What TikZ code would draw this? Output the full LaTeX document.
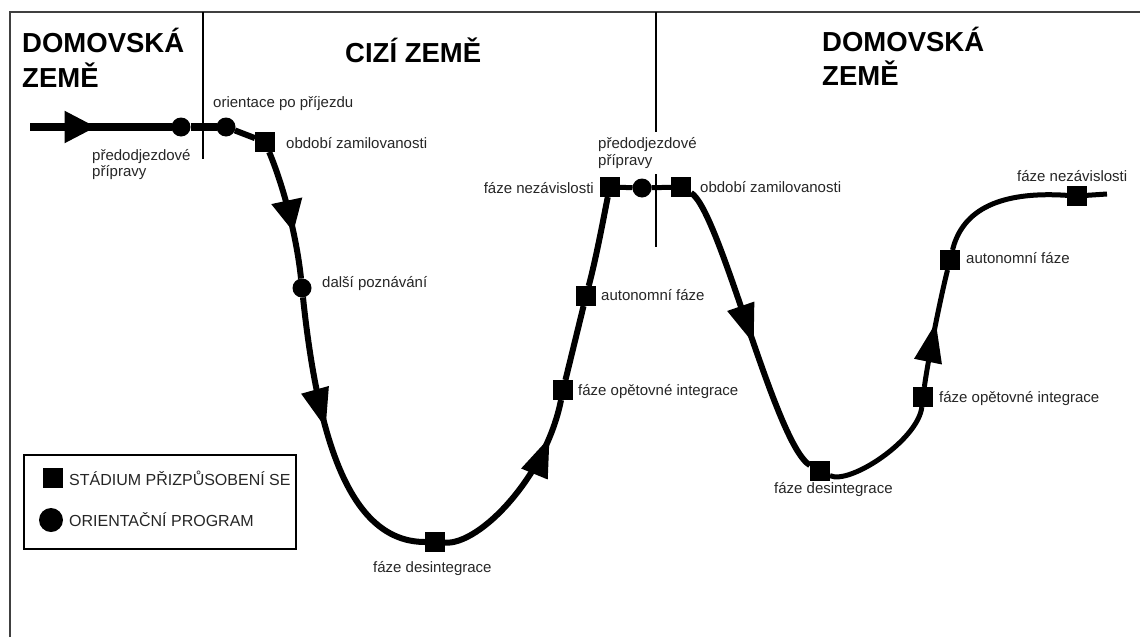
\documentclass[tikz,border=0pt]{standalone}
\usepackage{fontspec}
\setmainfont{Liberation Sans}
\usetikzlibrary{arrows.meta,decorations.markings}
\begin{document}
\begin{tikzpicture}[x=1pt,y=-1pt,
  sq/.style={fill=black,minimum size=20pt,inner sep=0pt,outer sep=0pt},
  dot/.style={circle,fill=black,minimum size=19pt,inner sep=0pt,outer sep=0pt},
  lbl/.style={font=\fontsize{15}{18}\selectfont,text=black!85,inner sep=0pt,anchor=base west},
  lblr/.style={lbl,anchor=base east},
  titletext/.style={font=\fontsize{27.5}{32}\selectfont\bfseries,inner sep=0pt,anchor=base west},
  leg/.style={font=\fontsize{16}{19}\selectfont,text=black!85,inner sep=0pt,anchor=west},
  curve/.style={line width=6pt,line join=round},
  thincurve/.style={line width=5pt,line join=round},
  frameline/.style={line width=2.5pt,black!75},
  divider/.style={line width=2pt},
  midarrow/.style={postaction={decorate},decoration={markings,mark=at position #1 with {\arrow{Triangle[length=40pt,width=27pt]}}}},
  shortarrow/.style={postaction={decorate},decoration={markings,mark=at position #1 with {\arrow{Triangle[length=32pt,width=30pt]}}}}
]
\useasboundingbox (0,0) rectangle (1140,637);
\fill[white] (0,0) rectangle (1140,637);

% frame and dividers
\draw[frameline] (10,637) -- (10,12) -- (1140,12);
\draw[divider] (203,12) -- (203,159);
\draw[divider] (656,12) -- (656,132);
\draw[divider] (656,174) -- (656,247);

% titles
\node[titletext] (t1a) at (22,52) {DOMOVSKÁ};
\node[titletext] (t1b) at (22,87) {ZEMĚ};
\node[titletext] (t2) at (345,62) {CIZÍ ZEMĚ};
\node[titletext] (t3a) at (822,51) {DOMOVSKÁ};
\node[titletext] (t3b) at (822,85) {ZEMĚ};

% path nodes
\coordinate (s) at (30,127);
\node[dot] (c1) at (181,127) {};
\node[dot] (c2) at (226,127) {};
\node[sq] (q1) at (265,142) {};
\node[dot] (c3) at (302,288) {};
\node[sq] (q2) at (435,542) {};
\node[sq] (q3) at (563,390) {};
\node[sq] (q4) at (586,296) {};
\node[sq] (q5) at (610,187) {};
\node[dot] (c4) at (642,188) {};
\node[sq] (q6) at (681,187) {};
\node[sq] (q7) at (820,471) {};
\node[sq] (q8) at (923,397) {};
\node[sq] (q9) at (950,260) {};
\node[sq] (q10) at (1077,196) {};
\coordinate (e) at (1107,194);

% connectors
\draw[line width=8pt,shortarrow=0.47] (s) -- (c1);
\draw[line width=8pt] (c1) -- (c2);
\draw[curve] (c2) -- (q1);
\draw[curve,shortarrow=0.64] (q1) .. controls (285,190) and (297,240) .. (c3);
\draw[curve,midarrow=0.45] (c3) .. controls (318,440) and (350,542) .. (q2);
\draw[curve,midarrow=0.8] (q2) .. controls (480,545) and (546,476) .. (q3);
\draw[curve] (q3) -- (q4);
\draw[curve] (q4) .. controls (597,255) and (606,205) .. (q5);
\draw[thincurve] (q5) -- (c4) -- (q6);
\draw[curve,midarrow=0.55] (q6) .. controls (720,210) and (775,445) .. (q7);
\draw[thincurve] (q7) .. controls (850,485) and (918,440) .. (q8);
\draw[thincurve,midarrow=0.55] (q8) .. controls (928,360) and (940,300) .. (q9);
\draw[thincurve] (q9) .. controls (960,220) and (985,190) .. (q10);
\draw[thincurve] (q10) -- (e);

% labels
\node[lbl] (l1a) at (92,160) {předodjezdové};
\node[lbl] (l1b) at (92,176) {přípravy};
\node[lbl] (l2) at (213,107) {orientace po příjezdu};
\node[lbl] (l3) at (286,148) {období zamilovanosti};
\node[lbl] (l4) at (322,287) {další poznávání};
\node[lbl] (l5) at (373,572) {fáze desintegrace};
\node[lbl] (l6) at (578,395) {fáze opětovné integrace};
\node[lbl] (l7) at (601,300) {autonomní fáze};
\node[lblr] (l8) at (594,193) {fáze nezávislosti};
\node[lbl] (l9a) at (598,148) {předodjezdové};
\node[lbl] (l9b) at (598,165) {přípravy};
\node[lbl] (l10) at (700,192) {období zamilovanosti};
\node[lbl] (l11) at (774,493) {fáze desintegrace};
\node[lbl] (l12) at (939,402) {fáze opětovné integrace};
\node[lbl] (l13) at (966,263) {autonomní fáze};
\node[lbl] (l14) at (1017,181) {fáze nezávislosti};

% legend
\node[draw,line width=2.5pt,minimum width=272pt,minimum height=94pt,inner sep=0pt] (legend) at (160,502) {};
\node[sq] (lsq) at (53,478) {};
\node[leg] (lt1) at (69,478) {STÁDIUM PŘIZPŮSOBENÍ SE};
\node[dot,minimum size=24pt] (ldot) at (51,520) {};
\node[leg] (lt2) at (69,520) {ORIENTAČNÍ PROGRAM};
\end{tikzpicture}
\end{document}
